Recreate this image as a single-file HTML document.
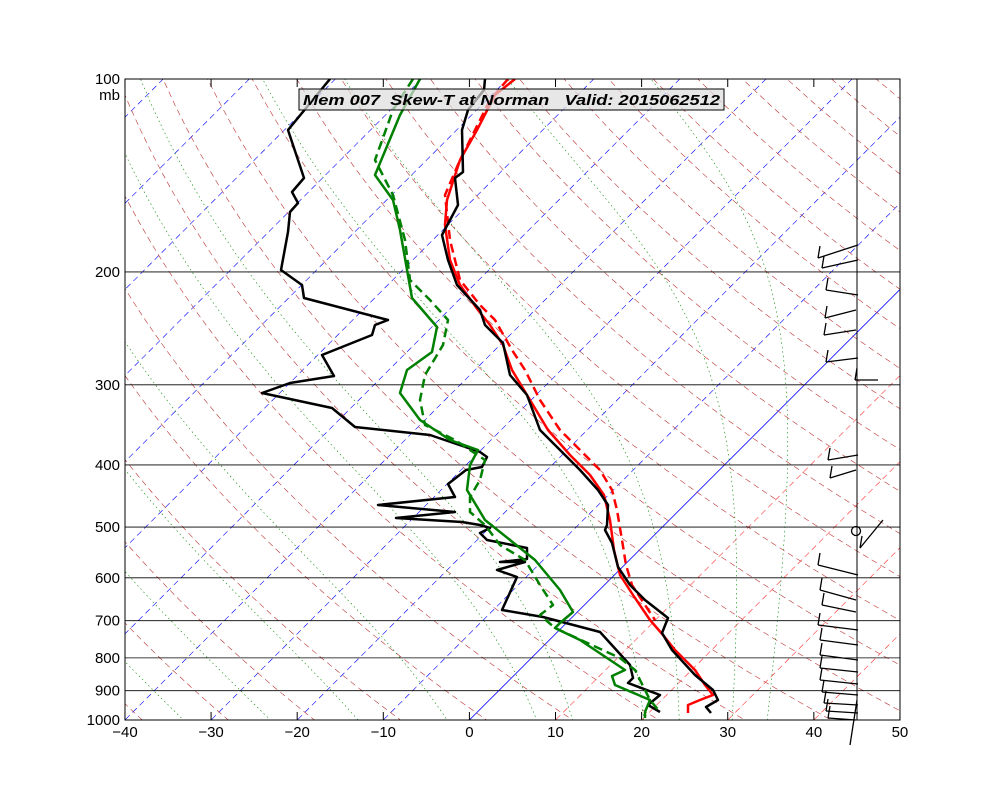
<!DOCTYPE html>
<html><head><meta charset="utf-8">
<style>
html,body{margin:0;padding:0;background:#fff;}
svg{display:block;font-family:"Liberation Sans",sans-serif;}
</style></head>
<body>
<svg id="s" width="1000" height="800" viewBox="0 0 1000 800" xmlns="http://www.w3.org/2000/svg">
<defs><clipPath id="c"><rect x="125" y="79" width="775" height="641"/></clipPath></defs>
<rect width="1000" height="800" fill="#fff"/>
<g id="bg" clip-path="url(#c)"></g>
<g id="data" clip-path="url(#c)" fill="none" stroke-width="2.5" stroke-linejoin="round">
<polyline stroke="#000" points="330,79 288,130 304,178 292,192 298,203 290,212 288,232 281,270 302,285 304,298 388,320 375,325 372,335 322,355 334,376 290,383 262,393 332,408 355,427 430,435 480,452 487,457 482,467 466,470 448,484 455,497 378,505 455,512 396,518 462,522 480,525 490,528 480,533 487,540 527,548 527,559 500,562 525,562 497,570 517,577 502,610 543,617 600,632 630,665 633,678 628,683 660,695 648,705 660,712"/>
<polyline stroke="#008000" points="420,79 400,115 375,175 393,200 400,230 412,298 437,327 432,352 407,370 400,393 420,420 450,440 478,450 470,465 467,490 485,520 510,540 535,560 560,590 573,612 560,623 555,628 580,640 610,660 625,670 612,676 615,685 650,700 645,712 645,718"/>
<polyline stroke="#008000" stroke-dasharray="9,5" points="413,79 393,110 375,160 393,195 405,240 410,280 430,300 448,320 443,345 425,375 420,400 425,425 455,440 485,460 480,480 470,497 470,512 485,525 500,545 525,560 540,585 553,605 540,615 555,628 620,658 635,670 640,680 650,700 660,712"/>
<polyline stroke="#f00" stroke-dasharray="9,5" points="508,79 490,100 475,130 460,160 445,195 450,240 460,280 480,305 495,320 512,350 525,370 540,400 560,430 580,450 600,470 612,490 617,510 622,540 626,565 632,585 645,605 655,620"/>
<polyline stroke="#f00" points="515,79 495,95 477,130 460,160 447,200 445,225 450,260 460,285 478,310 490,325 503,345 512,370 530,400 548,430 570,455 590,475 604,495 610,520 614,550 620,575 633,595 650,620 663,635 675,650 695,670 705,685 713,695 700,700 688,705 688,713"/>
<polyline stroke="#000" points="485,79 484,90 468,110 462,130 463,172 455,178 458,205 442,235 448,260 457,285 480,310 485,325 503,343 510,375 527,395 540,430 560,450 580,470 598,490 608,505 607,525 605,530 612,543 618,567 630,585 645,600 668,618 662,633 672,650 695,675 713,690 718,700 706,707 711,713"/>
</g>
<g id="wind" stroke="#000" stroke-width="1.3" fill="none"></g>
<circle cx="856" cy="531" r="4.5" fill="none" stroke="#000" stroke-width="1.3"/>
<g id="ax"></g>
<rect x="299" y="89" width="425" height="21" fill="#ddd" fill-opacity="0.7" stroke="#000" stroke-width="1"/>
<text x="303" y="105" font-size="15" font-weight="bold" font-style="italic" textLength="417" lengthAdjust="spacingAndGlyphs" style="white-space:pre" xml:space="preserve">Mem 007  Skew-T at Norman   Valid: 2015062512</text>
</svg>
<script>
(function(){
var NS="http://www.w3.org/2000/svg";
function Y(p){return 79+(Math.log10(p)-2)*641;}
function X(T,p){var y=Y(p);return 469.4+T*8.611+(720-y);}
var bg=document.getElementById('bg'),ax=document.getElementById('ax');
function el(par,t,a){var e=document.createElementNS(NS,t);for(var k in a)e.setAttribute(k,a[k]);par.appendChild(e);return e;}
for(var T=-160;T<=60;T+=10){
 var col=T>0?'#f33':'#00f';
 el(bg,'line',{x1:X(T,1050),y1:Y(1050),x2:X(T,90),y2:Y(90),stroke:col,'stroke-width':T==0?0.8:0.6,'stroke-dasharray':T==0?'':'6,4'});
}
for(var th=-38;th<=222;th+=10){
 var pts=[];for(var p=1050;p>=90;p-=10){var t=(th+273.15)*Math.pow(p/1000,0.286)-273.15;pts.push(X(t,p).toFixed(1)+','+Y(p).toFixed(1));}
 el(bg,'polyline',{points:pts.join(' '),fill:'none',stroke:'#b33',"stroke-width":0.6,'stroke-dasharray':'6,4'});
}
function es(t){return 6.112*Math.exp(17.67*t/(t+243.5));}
[-30,-20,-10,0,10,14,22,26,32,36].forEach(function(t0){
 var t=t0,pts=[];
 for(var p=1050;p>=100;p-=2){
  pts.push(X(t,p).toFixed(1)+','+Y(p).toFixed(1));
  var TK=t+273.15,e=es(t),rs=0.622*e/(p-e),Rd=287,cp=1004,Lv=2.5e6;
  var dTdp=(Rd*TK+Lv*rs)/(cp+Lv*Lv*rs*0.622/(Rd*TK*TK))/(p*100);
  t-= dTdp*200;
 }
 el(bg,'polyline',{points:pts.join(' '),fill:'none',stroke:'#080',"stroke-width":0.6,'stroke-dasharray':'1.5,3'});
});
[200,300,400,500,600,700,800,900].forEach(function(p){
 el(bg,'line',{x1:125,x2:900,y1:Y(p),y2:Y(p),stroke:'#000','stroke-width':0.8});
});
el(bg,'line',{x1:857,x2:857,y1:79,y2:720,stroke:'#000','stroke-width':1});
el(ax,'rect',{x:125,y:79,width:775,height:641,fill:'none',stroke:'#000','stroke-width':1});
[100,200,300,400,500,600,700,800,900,1000].forEach(function(p){
 var tx=el(ax,'text',{x:120,y:Y(p)+5,'text-anchor':'end','font-size':15});tx.textContent=p;
});
var mb=el(ax,'text',{x:120,y:100,'text-anchor':'end','font-size':15});mb.textContent='mb';
for(var T=-40;T<=50;T+=10){
 var x=469.4+T*8.611;
 el(ax,'line',{x1:x,x2:x,y1:720,y2:712,stroke:'#000'});
 el(ax,'line',{x1:x,x2:x,y1:79,y2:87,stroke:'#000'});
 var tx=el(ax,'text',{x:x,y:737,'text-anchor':'middle','font-size':15});tx.textContent=(T<0?'\u2212'+(-T):T);
}
var w=document.getElementById('wind');
var barbs=[[245,818,858,258],[260,822,858,268],[295,826,858,290],[310,825,856,318],[330,824,856,335],[358,826,858,362],[380,855,878,380],[455,828,858,460],[470,830,856,478],[520,860,883,548],[575,818,858,565],[600,820,856,590],[612,822,856,605],[630,818,858,625],[645,820,858,640],[660,820,858,655],[672,820,858,668],[684,820,858,680],[695,822,858,692],[705,824,858,703],[713,826,858,711],[720,828,856,718]];
barbs.forEach(function(b){
 el(w,'line',{x1:b[2],y1:b[0],x2:b[1],y2:b[3]});
 el(w,'line',{x1:b[1],y1:b[3],x2:b[1]+2,y2:b[3]-12});
});
el(w,'line',{x1:850,y1:745,x2:857,y2:700});
})();
</script>
</body></html>
